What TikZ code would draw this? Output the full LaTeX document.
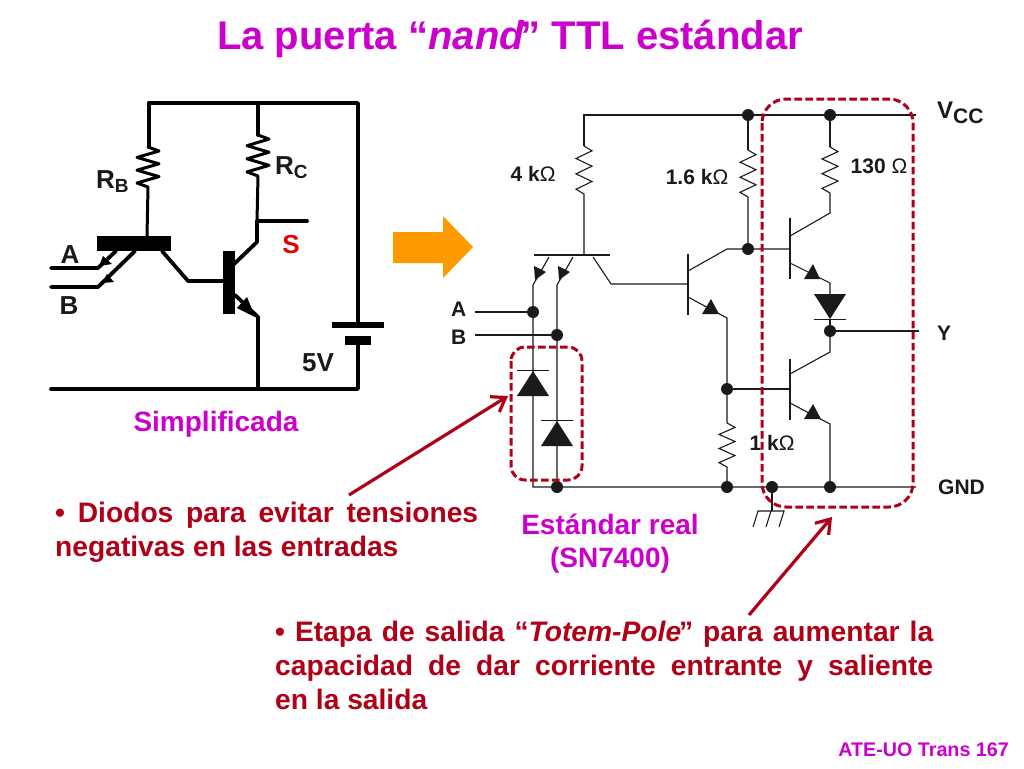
\documentclass[tikz,border=0pt]{standalone}
\usepackage{fontspec}
\setmainfont{Liberation Sans}
\usetikzlibrary{arrows.meta}
\definecolor{mag}{HTML}{CC00CC}
\definecolor{dred}{HTML}{B00018}
\definecolor{ora}{HTML}{FF9900}
\definecolor{ink}{HTML}{1A1A1A}
\newcommand{\fs}[1]{\fontsize{#1}{#1}\selectfont}
% vertical zig-zag resistor: centre x, top y, bottom y, half-width
\newcommand{\zig}[4]{(#1,#2) -- ({#1+#4},{#2+(#3-#2)*0.1}) -- ({#1-#4},{#2+(#3-#2)*0.26}) -- ({#1+#4},{#2+(#3-#2)*0.42}) -- ({#1-#4},{#2+(#3-#2)*0.58}) -- ({#1+#4},{#2+(#3-#2)*0.74}) -- ({#1-#4},{#2+(#3-#2)*0.9}) -- (#1,#3)}
\tikzset{
  thick wire/.style={line width=3.8pt,line join=round,line cap=round,black},
  thin wire/.style={line width=1.1pt,line join=miter,ink},
  dot/.style={circle,fill=ink,inner sep=0pt,minimum size=12pt},
  dashbox/.style={draw=dred,line width=3pt,dash pattern=on 7.5pt off 3.5pt},
  callout/.style={draw=dred,line width=3.2pt,-{Straight Barb[length=13pt,width=18pt,line width=3.2pt]}},
  lab/.style={font=\fs{26}\bfseries,text=ink,inner sep=0pt},
  slab/.style={font=\fs{21}\bfseries,text=ink,inner sep=0pt},
  plab/.style={font=\fs{21}\bfseries,text=ink,inner sep=0pt},
  head/.style={font=\fontsize{28}{33.5}\selectfont\bfseries,text=mag,inner sep=0pt},
  note/.style={font=\fontsize{28.2}{34}\selectfont\bfseries,text=dred,inner sep=0pt,align=left,anchor=north west},
}
\begin{document}
\begin{tikzpicture}[x=1pt,y=-1pt]
\useasboundingbox[fill=white] (0,0) rectangle (1024,768);

% ---- titles
\node[font=\fs{40}\bfseries,text=mag,inner sep=0pt] (title) at (510,39) {La puerta “\textit{nand}\kern-4pt” TTL estándar};
\node[head] (simp) at (216,424) {Simplificada};
\node[head,align=center] (real) at (610,543.5) {Estándar real\\(SN7400)};

% ---- simplified circuit
\coordinate (L1) at (149,103);
\coordinate (L2) at (258,103);
\coordinate (L3) at (358,103);
\coordinate (L4) at (358,389);
\coordinate (L5) at (258,389);
\coordinate (L6) at (51,389);
\coordinate (Lout) at (307,221);
\coordinate (Lj) at (257,221);
\draw[thick wire] (L1) -- (L3) -- (358,325);
\draw[thick wire] (358,340) -- (L4) -- (L6);
\draw[thick wire] (L1) -- (149,147);
\draw[thick wire,line width=3pt] \zig{148}{147}{187}{11} -- (147,236);
\draw[thick wire] (L2) -- (258,135);
\draw[thick wire,line width=3pt] \zig{258}{135}{176}{11} -- (257,221);
\draw[thick wire] (Lj) -- (Lout);
\draw[thick wire] (Lj) -- (257,242) -- (233,265);
\draw[thick wire] (235,295) -- (258,317) -- (L5);
\fill[black] (247,297) -- (255,317) -- (237,308) -- cycle;
\fill[black] (97,236) rectangle (171,251);
\fill[black] (223,251) rectangle (235,314);
\draw[thick wire] (162,251) -- (188,281) -- (223,281);
\draw[thick wire] (51,268) -- (98,268) -- (116,251);
\draw[thick wire] (51,287) -- (98,287) -- (135,251);
\fill[black] (99,266) -- (103,256) -- (112,264) -- cycle;
\fill[black] (102,283) -- (107,274) -- (114,282) -- cycle;
\fill[black] (332,322) rectangle (384,328);
\fill[black] (345,336) rectangle (371,345);
\node[lab] (la) at (70,255) {A};
\node[lab] (lb) at (69,306) {B};
\node[lab,anchor=west] (rb) at (96,182) {R\raisebox{-4pt}{\fs{19}B}};
\node[lab,anchor=west] (rc) at (275,168) {R\raisebox{-4pt}{\fs{19}C}};
\node[lab,text=red!90!black] (ls) at (291,245) {S};
\node[lab] (v5) at (318,363) {5V};

% ---- orange arrow
\fill[ora] (393,232) -- (443,232) -- (443,216) -- (473,247) -- (443,278) -- (443,263) -- (393,263) -- cycle;

% ---- full circuit: junctions
\node[dot] (dv1) at (748,115) {};
\node[dot] (dv2) at (830,115) {};
\node[dot] (db1) at (748,249) {};
\node[dot] (da) at (533,312) {};
\node[dot] (db) at (557,335) {};
\node[dot] (dy) at (830,331) {};
\node[dot] (dm) at (727,389) {};
\node[dot] (dg1) at (557,487) {};
\node[dot] (dg2) at (727,487) {};
\node[dot] (dg3) at (772,487) {};
\node[dot] (dg4) at (830,487) {};
\coordinate (vcc) at (916,115);
\coordinate (gnd) at (916,487);
\coordinate (yout) at (919,331);
\coordinate (ain) at (475,312);
\coordinate (bin) at (475,335);

\draw[thin wire] (584,146) -- (584,115) -- (vcc);
\draw[thin wire] \zig{584}{146}{194}{8} -- (584,255);
\draw[thin wire] (534,255) -- (610,255);
\draw[thin wire] (549,257) -- (533,285) -- (533,487) -- (gnd);
\draw[thin wire] (573,257) -- (557,285) -- (557,487);
\fill[ink] (534,266) -- (546,272) -- (535,280) -- cycle;
\fill[ink] (558,266) -- (570,272) -- (559,280) -- cycle;
\draw[thin wire] (593,257) -- (611,284) -- (688,284);
\draw[thin wire] (ain) -- (da);
\draw[thin wire] (bin) -- (db);

% middle transistor
\draw[thin wire] (688,254) -- (688,315);
\draw[thin wire] (688,271) -- (727,249) -- (790,249);
\draw[thin wire] (688,297) -- (727,318) -- (727,423);
\fill[ink] (711,299) -- (719,314) -- (702,314) -- cycle;
\draw[thin wire] \zig{727}{423}{467}{8} -- (dg2);
\draw[thin wire] (dm) -- (790,389);
\draw[thin wire] (dv1) -- (748,150);
\draw[thin wire] \zig{748}{150}{197}{8} -- (db1);

% upper output transistor
\draw[thin wire] (790,218) -- (790,279);
\draw[thin wire] (dv2) -- (830,147);
\draw[thin wire] \zig{830}{147}{193}{8} -- (830,213) -- (790,236);
\draw[thin wire] (790,263) -- (830,283) -- (830,296);
\fill[ink] (813,264) -- (820,279) -- (804,279) -- cycle;
\fill[ink] (814,294) -- (846,294) -- (830,319) -- cycle;
\draw[thin wire] (814,319.5) -- (846,319.5);
\draw[thin wire] (830,319) -- (dy);
\draw[thin wire] (dy) -- (yout);

% lower output transistor
\draw[thin wire] (dy) -- (830,352) -- (790,374);
\draw[thin wire] (790,359) -- (790,420);
\draw[thin wire] (790,403) -- (830,424) -- (dg4);
\fill[ink] (813,404) -- (821,419) -- (804,419) -- cycle;

% input clamp diodes
\fill[ink] (533,371) -- (549,396) -- (517,396) -- cycle;
\draw[thin wire] (517,370.5) -- (549,370.5);
\fill[ink] (557,421) -- (573,446) -- (541,446) -- cycle;
\draw[thin wire] (541,420.5) -- (573,420.5);

% ground
\draw[thin wire] (dg3) -- (772,511);
\draw[thin wire] (753,527) -- (758,511) -- (784,511) -- (779,527);
\draw[thin wire] (771,511) -- (766,527);

% labels of the full circuit
\node[plab] (ra) at (533,174) {4 k\textmd{Ω}};
\node[plab] (rbb) at (697,177) {1.6 k\textmd{Ω}};
\node[plab] (rcc) at (879,166) {130 \textmd{Ω}};
\node[plab] (rd) at (772,443) {1 k\textmd{Ω}};
\node[slab,anchor=west] (ta) at (451,309) {A};
\node[slab,anchor=west] (tb) at (451,337) {B};
\node[slab,anchor=west] (ty) at (937,333) {Y};
\node[slab,anchor=west] (tg) at (938,487) {GND};
\node[lab,anchor=west,font=\fs{24}\bfseries] (tv) at (937,113) {V\raisebox{-5pt}{\fs{21}CC}};

% dashed outlines
\draw[dashbox,rounded corners=14pt] (511,347) rectangle (582,480);
\draw[dashbox,rounded corners=24pt] (762,99) rectangle (913,507);

% call-outs
\node[note] (n1) at (55,501.5) {\makebox[423pt][s]{• Diodos para evitar tensiones}\\negativas en las entradas};
\node[note] (n2) at (275,620.5) {\makebox[658pt][s]{• Etapa de salida “\textit{Totem-Pole}\kern-2pt” para aumentar la}\\\makebox[658pt][s]{capacidad de dar corriente entrante y saliente}\\en la salida};
\coordinate (c1) at (349,495);
\coordinate (c1t) at (508,396);
\coordinate (c2) at (749,615);
\coordinate (c2t) at (832,517);
\draw[callout] (c1) -- (c1t);
\draw[callout] (c2) -- (c2t);

\node[font=\fs{19.7}\bfseries,text=mag,inner sep=0pt,anchor=east] (foot) at (1009,750) {ATE-UO Trans 167};
\end{tikzpicture}
\end{document}
